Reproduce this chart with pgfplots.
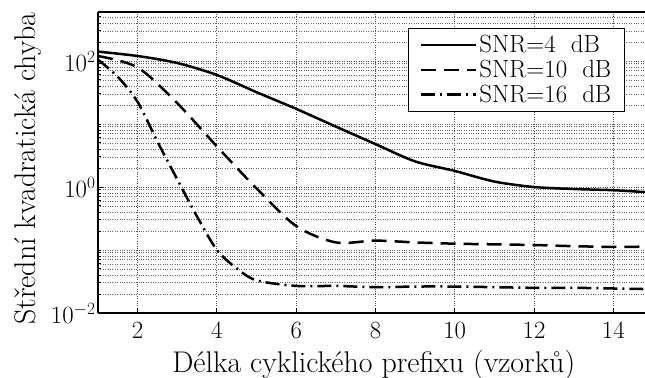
\documentclass[border=0pt]{standalone}
\usepackage{pgfplots}
\pgfplotsset{compat=1.18}
\begin{document}
\begin{tikzpicture}
\begin{axis}[
  scale only axis, width=547bp, height=301bp,
  xmin=1, xmax=14.8, ymode=log, ymin=0.01, ymax=600,
  axis lines*=left, axis line style={-, line width=1.8bp},
  tick align=inside, major tick length=5bp, minor tick length=3bp,
  tick style={black, line width=1bp},
  xtick={2,4,...,14}, ytick={0.01,1,100},
  minor xtick={},
  minor ytick={0.02,0.03,0.04,0.05,0.06,0.07,0.08,0.09,0.1,0.2,0.3,0.4,0.5,0.6,0.7,0.8,0.9,2,3,4,5,6,7,8,9,10,20,30,40,50,60,70,80,90,200,300,400,500},
  grid=both,
  major grid style={dotted, black!70, line width=0.9bp},
  minor grid style={dotted, black!60, line width=0.9bp},
  ticklabel style={font=\fontsize{25}{27}\selectfont},
  xticklabel style={yshift=-6bp},
  yticklabel style={xshift=1bp},
  xlabel={Délka cyklického prefixu (vzorků)},
  ylabel={Střední kvadratická chyba},
  label style={font=\fontsize{30}{32}\selectfont},
  xlabel style={at={(axis description cs:0.504,0)}, anchor=base, yshift=-59bp},
  ylabel style={at={(axis description cs:-0.128,0.48)}, anchor=center},
  legend cell align=left,
  legend style={at={(0.963,0.947)}, anchor=north east, draw=black, line width=1bp,
    font=\fontsize{25}{25}\selectfont, inner xsep=11bp, inner ysep=5bp, row sep=2bp},
  legend image code/.code={\draw[#1, line width=2.5bp] (0bp,0bp) -- (55bp,0bp);},
]
\addplot[black, line width=2.5bp, smooth] coordinates {
(1,141) (2,120) (3,93) (4,60) (5,32) (6,17.4) (7,9.1) (8,4.8) (9,2.55) (10,1.8) (11,1.22) (12,1.0) (13,0.93) (14,0.89) (14.8,0.83)};
\addlegendentry{SNR=4\ \ dB}
\addplot[black, line width=2.5bp, dash pattern=on 15bp off 8bp, smooth] coordinates {
(1,120) (2,79) (3,21.4) (4,4.4) (5,0.95) (6,0.24) (7,0.132) (8,0.141) (9,0.132) (10,0.126) (11,0.123) (12,0.120) (13,0.115) (14,0.112) (14.8,0.113)};
\addlegendentry{SNR=10\ \ dB}
\addplot[black, line width=2.5bp, dash pattern=on 14bp off 5bp on 2bp off 5bp, smooth] coordinates {
(1,105) (1.5,56) (2,22.4) (2.5,5.25) (3,1.32) (3.5,0.339) (4,0.1) (4.5,0.051) (5,0.033) (6,0.0269) (7,0.0269) (8,0.0257) (9,0.0263) (10,0.0263) (11,0.0257) (12,0.0251) (13,0.0251) (14,0.0245) (14.8,0.024)};
\addlegendentry{SNR=16\ \ dB}
\draw[line width=1.8bp] (rel axis cs:0,1) -- (rel axis cs:1,1);
\end{axis}
\pgfresetboundingbox
\path ([shift={(-98bp,-65bp)}]current axis.south west) rectangle ([shift={(0bp,12bp)}]current axis.north east);
\end{tikzpicture}
\end{document}
